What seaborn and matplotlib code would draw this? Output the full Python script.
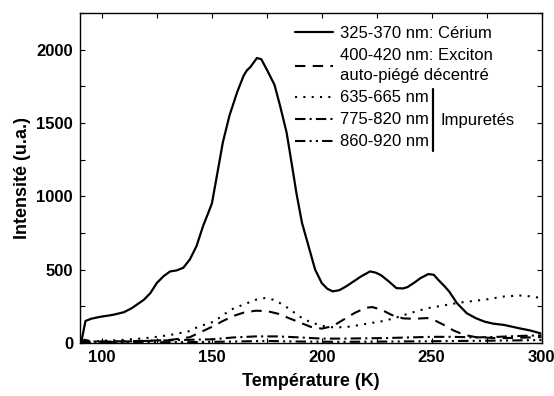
import numpy as np
import pandas as pd
import matplotlib
matplotlib.use("Agg")
import matplotlib.pyplot as plt
from matplotlib.lines import Line2D
from matplotlib.ticker import MultipleLocator
import seaborn as sns

# ---- data ----
t_ce = [90.5, 92.5, 95, 99, 105, 110, 113.5, 119, 122, 125, 128, 131, 134, 137, 140, 143, 146, 150,
        152, 155, 158, 161.5, 164.5, 166, 167.5, 170.5, 172.5, 175.5, 178.5, 181, 184, 186.5, 188.5,
        191, 194, 197, 200, 202.5, 205, 208, 211, 214.5, 218, 222, 224.5, 227, 230.5, 234, 237, 239,
        242, 245, 248.5, 251, 253, 256, 258, 261.5, 266, 270, 274, 278, 283, 290, 295, 299.5]
v_ce = [0, 150, 165, 178, 192, 210, 237, 294, 340, 410, 455, 488, 495, 513, 570, 660, 797, 950,
        1116, 1368, 1550, 1710, 1824, 1860, 1881, 1943, 1935, 1850, 1760, 1620, 1436, 1208, 1020,
        820, 660, 500, 409, 370, 352, 360, 385, 420, 455, 488, 480, 462, 420, 374, 372, 381,
        410, 443, 470, 465, 431, 385, 351, 272, 203, 170, 146, 132, 123, 100, 85, 66]

t_ex = [90, 100, 110, 120, 130, 135, 140, 145, 150, 155, 160, 165, 170, 175, 180, 185, 190, 195,
        200, 205, 210, 215, 220, 223, 227, 232, 237, 242, 248, 252, 256, 260, 265, 270, 280, 290, 300]
v_ex = [5, 10, 12, 15, 20, 28, 40, 75, 110, 150, 185, 210, 220, 218, 200, 170, 140, 110,
        98, 115, 160, 205, 240, 245, 228, 190, 168, 165, 170, 150, 120, 85, 55, 40, 33, 36, 40]

t_635 = [90, 95, 100, 110, 119, 125, 131, 139, 144, 151, 156, 160, 165, 170, 174, 178, 181, 185,
         190, 195, 201, 206, 213, 222, 228, 233, 240, 248, 255, 263, 274, 283, 290, 295, 300]
v_635 = [0, 10, 15, 22, 32, 42, 55, 77, 112, 146, 200, 237, 265, 295, 306, 295, 272, 235,
         180, 140, 115, 105, 112, 135, 150, 169, 203, 237, 255, 276, 295, 317, 324, 318, 306]

t_775 = [90, 100, 110, 120, 130, 140, 150, 160, 170, 180, 190, 200, 210, 220, 230, 240, 250, 260,
         270, 280, 290, 300]
v_775 = [5, 8, 10, 14, 18, 22, 25, 38, 45, 45, 38, 30, 30, 32, 34, 38, 42, 42, 38, 42, 48, 52]

t_860 = [90, 92, 95, 100, 120, 140, 160, 175, 190, 210, 230, 250, 270, 290, 300]
v_860 = [2, 22, 12, 8, 5, 6, 10, 14, 10, 8, 10, 12, 15, 18, 20]

labels = ["325-370 nm: Cérium", "400-420 nm: Exciton\nauto-piégé décentré",
          "635-665 nm", "775-820 nm", "860-920 nm"]
group_label = "Impuretés"
x_label = "Température (K)"
y_label = "Intensité (u.a.)"

# ---- style ----
sns.set_theme(style="ticks")
plt.rcParams["font.family"] = ["Liberation Sans", "DejaVu Sans"]
plt.rcParams.update({
    "text.color": "black", "axes.labelcolor": "black",
    "xtick.color": "black", "ytick.color": "black",
    "xtick.direction": "in", "ytick.direction": "in",
    "xtick.top": True, "ytick.right": True,
    "xtick.major.size": 3.5, "ytick.major.size": 3.5,
    "xtick.minor.size": 3.5, "ytick.minor.size": 3.5,
    "xtick.major.width": 0.8, "ytick.major.width": 0.8,
    "xtick.minor.width": 0.8, "ytick.minor.width": 0.8,
    "axes.linewidth": 1.0,
    "axes.edgecolor": "black",
})

fig = plt.figure(figsize=(5.54, 3.96), dpi=100)
ax = fig.add_axes([80 / 554, 1 - 343 / 396, (541.5 - 80) / 554, (343 - 13) / 396])

series = [
    (t_ce, v_ce, "-", 1.6),
    (t_ex, v_ex, (0, (5, 3.5)), 1.5),
    (t_635, v_635, (0, (1, 3)), 1.5),
    (t_775, v_775, (0, (5, 2, 1, 2)), 1.5),
    (t_860, v_860, (0, (5, 2, 1, 2, 1, 2)), 1.5),
]
for (t, v, ls, lw), lab in zip(series, labels):
    sns.lineplot(x=t, y=v, ax=ax, color="black", linestyle=ls, linewidth=lw,
                 label=lab, sort=False)

ax.set_xlim(90, 300)
ax.set_ylim(0, 2250)
ax.xaxis.set_major_locator(MultipleLocator(50))
ax.xaxis.set_minor_locator(MultipleLocator(25))
ax.yaxis.set_major_locator(MultipleLocator(500))
ax.yaxis.set_minor_locator(MultipleLocator(250))
ax.tick_params(axis="both", which="both", labelsize=12, colors="black")
ax.tick_params(axis="y", pad=5)
ax.tick_params(axis="x", pad=5)
for lbl in ax.get_xticklabels() + ax.get_yticklabels():
    lbl.set_fontweight("bold")

ax.set_xlabel(x_label, fontsize=13, fontweight="bold", labelpad=6, color="black")
ax.set_ylabel(y_label, fontsize=13, fontweight="bold", labelpad=4, color="black")

leg = ax.legend(loc="upper left", bbox_to_anchor=(295 / 554, 1 - 26 / 396),
                bbox_transform=fig.transFigure, frameon=False, fontsize=12,
                handlelength=2.3, handletextpad=0.42, borderpad=0, borderaxespad=0,
                labelspacing=0.42)
for txt in leg.get_texts():
    txt.set_color("black")
    txt.set_linespacing(1.45)

# bracket for impurities
fig.add_artist(Line2D([433 / 554, 433 / 554], [1 - 89 / 396, 1 - 151 / 396],
                      transform=fig.transFigure, color="black", linewidth=1.6))
fig.text(440 / 554, 1 - 121 / 396, group_label, fontsize=12, va="center", ha="left",
         color="black")

fig.savefig("out.png", dpi=100)
